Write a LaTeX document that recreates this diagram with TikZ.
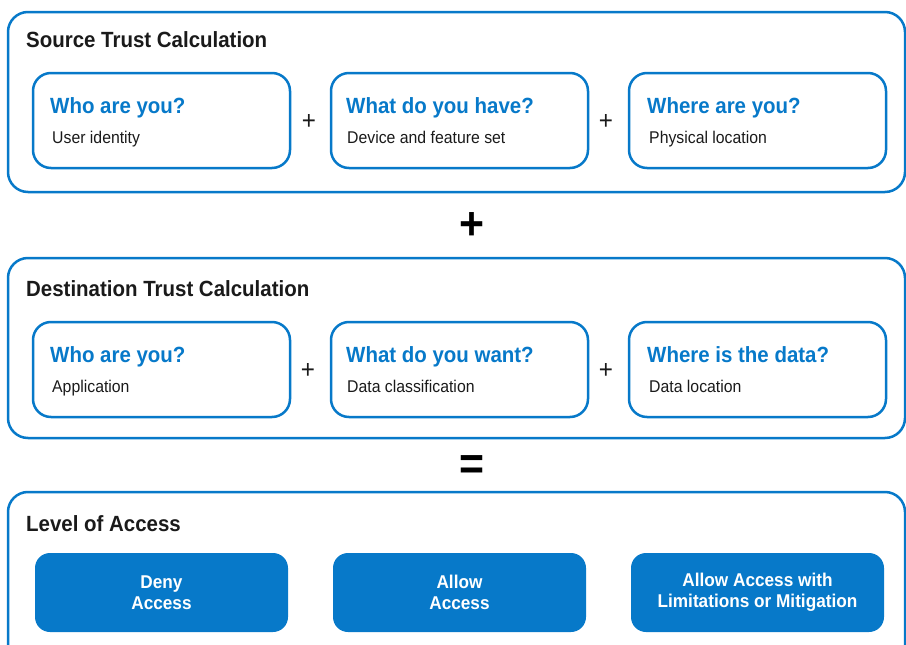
\documentclass[tikz,border=0pt]{standalone}
\usepackage{fontspec}
\setmainfont[FakeStretch=0.93]{Liberation Sans}
\definecolor{cblue}{HTML}{0779C9}
\definecolor{txt}{HTML}{1A1A1A}
\begin{document}
\begin{tikzpicture}[x=1pt,y=-1pt,
  outerbox/.style={draw=cblue, line width=2.5pt, rounded corners=20pt, anchor=north west, inner sep=0, outer sep=0},
  innerbox/.style={draw=cblue, line width=2.5pt, rounded corners=18pt, anchor=north west, minimum width=257pt, minimum height=95pt, inner sep=0, outer sep=0},
  fillbox/.style={fill=cblue, rounded corners=15pt, anchor=north west, minimum width=253pt, minimum height=79pt, inner sep=0, outer sep=0, text=white, align=center, font=\bfseries\fontsize{18.5}{21.5}\selectfont},
  titletext/.style={anchor=base west, inner sep=0, text=txt, font=\bfseries\fontsize{22}{26}\selectfont},
  qtext/.style={anchor=base west, inner sep=0, text=cblue, font=\bfseries\fontsize{22}{26}\selectfont},
  subtext/.style={anchor=base west, inner sep=0, text=txt, font=\fontsize{17}{20}\selectfont},
  smallop/.style={inner sep=0, text=txt, font=\fontsize{26}{30}\selectfont},
  bigop/.style={inner sep=0, text=black, font=\bfseries\fontsize{46}{50}\selectfont}]
\useasboundingbox (0,0) rectangle (906,645);
\clip (0,0) rectangle (906,645);

% outer boxes
\node[outerbox, minimum width=897pt, minimum height=180pt] (src) at (8,12) {};
\node[outerbox, minimum width=897pt, minimum height=180pt] (dst) at (8,258) {};
\node[outerbox, minimum width=897pt, minimum height=190pt] (lvl) at (8,492) {};

% titles
\node[titletext] (t1) at (26,47) {Source Trust Calculation};
\node[titletext] (t2) at (26,296) {Destination Trust Calculation};
\node[titletext] (t3) at (26,531) {Level of Access};

% row 1
\node[innerbox] (s1) at (33,73) {};
\node[innerbox] (s2) at (331,73) {};
\node[innerbox] (s3) at (629,73) {};
\node[qtext] (q1) at (50,113) {Who are you?};
\node[qtext] (q2) at (346,113) {What do you have?};
\node[qtext] (q3) at (647,113) {Where are you?};
\node[subtext] (a1) at (52,143) {User identity};
\node[subtext] (a2) at (347,143) {Device and feature set};
\node[subtext] (a3) at (649,143) {Physical location};
\node[smallop] (p1) at (309,122) {+};
\node[smallop] (p2) at (606,122) {+};

% big plus
\node[bigop] (bigplus) at (472,226) {+};

% row 2
\node[innerbox] (d1) at (33,322) {};
\node[innerbox] (d2) at (331,322) {};
\node[innerbox] (d3) at (629,322) {};
\node[qtext] (r1) at (50,362) {Who are you?};
\node[qtext] (r2) at (346,362) {What do you want?};
\node[qtext] (r3) at (647,362) {Where is the data?};
\node[subtext] (b1) at (52,392) {Application};
\node[subtext] (b2) at (347,392) {Data classification};
\node[subtext] (b3) at (649,392) {Data location};
\node[smallop] (p3) at (308,371) {+};
\node[smallop] (p4) at (606,371) {+};

% equals
\node[bigop] (eq) at (472,468) {=};

% level of access
\node[fillbox] (deny) at (35,553) {Deny\\Access};
\node[fillbox] (allow) at (333,553) {Allow\\Access};
\node[fillbox] (limit) at (631,553) {Allow Access with\\Limitations or Mitigation};
\end{tikzpicture}
\end{document}
